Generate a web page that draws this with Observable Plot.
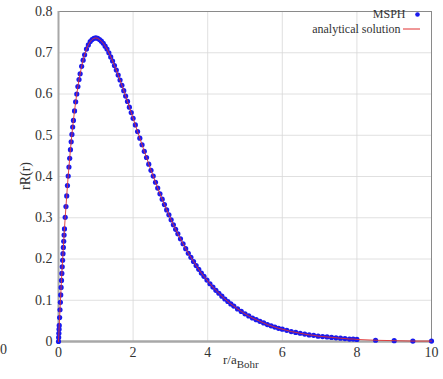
<!DOCTYPE html>
<html><head><meta charset="utf-8">
<script src="https://cdn.jsdelivr.net/npm/d3@7"></script>
<script src="https://cdn.jsdelivr.net/npm/@observablehq/plot@0.6"></script>
<style>
html,body{margin:0;padding:0;background:#fff;}
#wrap{position:relative;width:443px;height:379px;overflow:hidden;}
#stray{position:absolute;left:0px;top:342px;font:14px "Liberation Serif",serif;color:#333;}
</style>
</head><body>
<div id="wrap"><div id="stray">0</div></div>
<script>
const rValues = [0,0.005,0.01,0.015,0.02,0.03,0.04,0.05,0.06,0.07,0.08,0.09,0.10,0.11,0.12,0.13,0.14,0.15,0.16,0.18,0.20,0.22,0.24,0.26,0.28,0.30,0.32,0.34,0.36,0.38,0.40,0.43,0.46,0.49,0.52,0.55,0.58,0.62,0.66,0.70,0.75,0.80,0.85,0.90,0.95,1.00,1.05,1.10,1.15,1.20,1.25,1.30,1.35,1.40,1.45,1.50,1.55,1.60,1.65,1.70,1.75,1.80,1.85,1.90,1.95,2.00,2.06,2.12,2.18,2.24,2.30,2.36,2.42,2.48,2.54,2.60,2.66,2.72,2.78,2.84,2.90,2.96,3.02,3.08,3.14,3.20,3.27,3.34,3.41,3.48,3.55,3.62,3.69,3.76,3.83,3.90,3.98,4.06,4.14,4.22,4.30,4.38,4.46,4.54,4.62,4.70,4.80,4.90,5.00,5.10,5.20,5.30,5.40,5.50,5.60,5.70,5.80,5.90,6.00,6.12,6.24,6.36,6.48,6.60,6.72,6.84,6.96,7.08,7.20,7.32,7.44,7.56,7.68,7.80,7.90,8.00,8.5,9.0,9.5,10.0];
const rRValues = [0,0.010,0.020,0.030,0.039,0.058,0.077,0.095,0.113,0.131,0.148,0.165,0.181,0.197,0.213,0.228,0.243,0.258,0.273,0.301,0.327,0.353,0.378,0.401,0.423,0.444,0.465,0.484,0.502,0.520,0.536,0.559,0.581,0.600,0.618,0.635,0.649,0.667,0.682,0.695,0.709,0.719,0.727,0.732,0.735,0.736,0.735,0.732,0.728,0.723,0.716,0.709,0.700,0.690,0.680,0.669,0.658,0.646,0.634,0.621,0.608,0.595,0.582,0.568,0.555,0.541,0.525,0.509,0.493,0.477,0.461,0.446,0.430,0.415,0.401,0.386,0.372,0.358,0.345,0.332,0.319,0.307,0.295,0.283,0.272,0.261,0.249,0.237,0.225,0.214,0.204,0.194,0.184,0.175,0.166,0.158,0.149,0.140,0.132,0.124,0.117,0.110,0.103,0.097,0.091,0.086,0.079,0.073,0.067,0.062,0.057,0.053,0.049,0.045,0.041,0.038,0.035,0.032,0.030,0.027,0.024,0.022,0.020,0.018,0.016,0.015,0.013,0.012,0.011,0.010,0.009,0.008,0.007,0.006,0.006,0.005,0.003,0.002,0.001,0.001];
const xTicks = [0,2,4,6,8,10];
const yTicks = [0,0.1,0.2,0.3,0.4,0.5,0.6,0.7,0.8];
const legendLabels = ["MSPH","analytical solution"];

const data = rValues.map((r,i)=>({r, v: rRValues[i]}));
const font = '"Liberation Serif", "Times New Roman", serif';

const plot = Plot.plot({
  width: 443, height: 379,
  marginLeft: 58, marginRight: 12, marginTop: 11, marginBottom: 38,
  style: {fontFamily: font, fontSize: "13px", color: "#333", background: "#fff"},
  x: {domain: [0,10], ticks: xTicks, label: null, tickSize: 0, tickPadding: 6},
  y: {domain: [0,0.8], ticks: yTicks, label: null, tickSize: 0, tickPadding: 6, tickFormat: d => d === 0 ? "0" : String(d)},
  marks: [
    Plot.gridX(xTicks.slice(1,-1), {stroke: "#d8d8d8", strokeOpacity: 1, strokeWidth: 0.8}),
    Plot.gridY(yTicks.slice(1,-1), {stroke: "#d8d8d8", strokeOpacity: 1, strokeWidth: 0.8}),
    Plot.frame({stroke: "#8a8a8a", strokeWidth: 1}),
    Plot.ruleX([0], {stroke: "#a8a8a8", strokeWidth: 2}),
    Plot.ruleY([0], {stroke: "#a8a8a8", strokeWidth: 2.5}),
    Plot.axisX({ticks: xTicks, tickSize: 0, tickPadding: 6, fontSize: 14, label: null}),
    Plot.axisY({ticks: yTicks, tickSize: 0, tickPadding: 6, fontSize: 14, label: null, tickFormat: d => d === 0 ? "0" : String(d)}),
    Plot.dot(data, {x: "r", y: "v", r: 2.6, fill: "#1a1aee", stroke: "none"}),
    Plot.line(data, {x: "r", y: "v", stroke: "#e03030", strokeWidth: 0.9}),
    Plot.text([legendLabels[0]], {frameAnchor: "top-right", text: d => d, dx: -26, dy: 3, lineAnchor: "middle", textAnchor: "end", fontSize: 12, fill: "#333"}),
    Plot.text([legendLabels[1]], {frameAnchor: "top-right", text: d => d, dx: -31, dy: 18, lineAnchor: "middle", textAnchor: "end", fontSize: 12, fill: "#333"}),
    Plot.dot([0], {frameAnchor: "top-right", dx: -14, dy: 3, r: 2.3, fill: "#1a1aee"})
  ]
});
const svg = d3.select(plot);
// legend red line sample
svg.append("line").attr("x1", 403).attr("x2", 420).attr("y1", 29).attr("y2", 29).attr("stroke", "#e03030").attr("stroke-width", 1);
// y axis label
svg.append("text").attr("transform", "translate(30,176) rotate(-90)").attr("text-anchor", "middle")
  .attr("font-family", font).attr("font-size", 14).attr("fill", "#333").text("rR(r)");
// x axis label with subscript
const xl = svg.append("text").attr("x", 223).attr("y", 364).attr("text-anchor", "start").attr("font-family", font).attr("font-size", 13).attr("fill", "#333");
xl.append("tspan").text("r/a");
xl.append("tspan").attr("dy", 4).attr("font-size", 11).text("Bohr");
document.getElementById("wrap").appendChild(plot);
</script>
</body></html>
